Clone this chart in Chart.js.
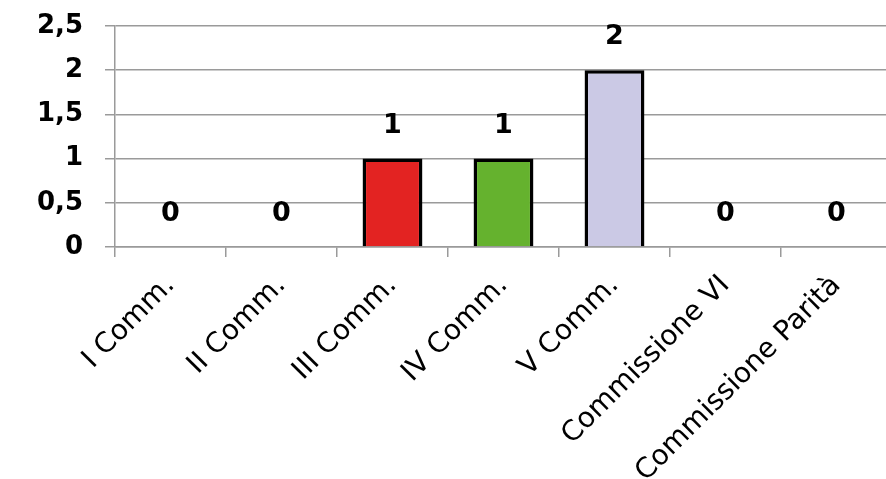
<!DOCTYPE html>
<html>
<head>
<meta charset="utf-8">
<script src="https://cdn.jsdelivr.net/npm/chart.js@4"></script>
<style>
  html, body { margin: 0; padding: 0; background: #fff; overflow: hidden; }
  #wrap { width: 892px; height: 479px; }
</style>
</head>
<body>
<div id="wrap"><canvas id="commChart"></canvas></div>
<script>
const categories = ['I Comm.', 'II Comm.', 'III Comm.', 'IV Comm.', 'V Comm.', 'Commissione VI', 'Commissione Parità'];
const values = [0, 0, 1, 1, 2, 0, 0];
const barColors = ['#e32322', '#e32322', '#e32322', '#65b22e', '#cbc9e5', '#cbc9e5', '#cbc9e5'];

const fontFamily = '"DejaVu Sans", sans-serif';

// value labels above each bar, Excel-style
const valueLabels = {
  id: 'valueLabels',
  afterDatasetsDraw(chart) {
    const ctx = chart.ctx;
    const meta = chart.getDatasetMeta(0);
    ctx.save();
    ctx.font = 'bold 27px ' + fontFamily;
    ctx.fillStyle = '#000';
    ctx.textAlign = 'center';
    ctx.textBaseline = 'middle';
    meta.data.forEach((bar, i) => {
      ctx.fillText(String(values[i]), bar.x, bar.y - 33);
    });
    ctx.restore();
  }
};

new Chart(document.getElementById('commChart'), {
  type: 'bar',
  data: {
    labels: categories,
    datasets: [{
      data: values,
      backgroundColor: barColors,
      borderColor: '#000',
      borderWidth: 3.5,
      barPercentage: 0.62,
      categoryPercentage: 0.87
    }]
  },
  options: {
    responsive: true,
    maintainAspectRatio: false,
    animation: false,
    layout: { padding: { top: 26, right: 0, left: 0, bottom: 0 } },
    plugins: { legend: { display: false }, tooltip: { enabled: false } },
    scales: {
      y: {
        min: 0,
        max: 2.5,
        ticks: {
          stepSize: 0.5,
          padding: 22,
          color: '#000',
          font: { family: fontFamily, size: 26, weight: 'bold' },
          callback: v => String(v).replace('.', ',')
        },
        grid: { color: '#9a9a9a', lineWidth: 1.5, tickLength: 10 },
        border: { color: '#9a9a9a', width: 1.5 },
        afterFit(scale) {
          scale.width = 115;
          scale.paddingTop = 0;
          scale.paddingBottom = 0;
        }
      },
      x: {
        offset: true,
        ticks: {
          color: '#000',
          maxRotation: 45,
          minRotation: 45,
          padding: 12,
          font: { family: fontFamily, size: 28 }
        },
        grid: { offset: true, drawOnChartArea: false, color: '#9a9a9a', lineWidth: 1.5, tickLength: 10 },
        border: { color: '#9a9a9a', width: 1.5 },
        afterFit(scale) {
          scale.height = 232;
          scale.paddingLeft = 0;
          scale.paddingRight = 0;
        }
      }
    }
  },
  plugins: [valueLabels]
});
</script>
</body>
</html>
